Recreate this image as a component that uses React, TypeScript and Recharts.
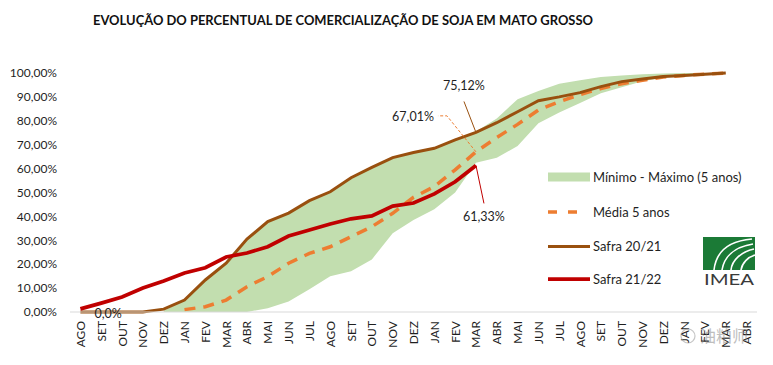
import React from "react";
import { ComposedChart, Line, Area, XAxis, YAxis } from "recharts";

const months = ["AGO","SET","OUT","NOV","DEZ","JAN","FEV","MAR","ABR","MAI","JUN","JUL","AGO","SET","OUT","NOV","DEZ","JAN","FEV","MAR","ABR","MAI","JUN","JUL","AGO","SET","OUT","NOV","DEZ","JAN","FEV","MAR","ABR"];

const safra2122: (number | null)[] = [1.3,3.7,6.3,10,13,16.3,18.5,23,24.7,27.3,31.8,34.3,36.8,39,40.2,44.3,45.6,49.4,54.5,61.33];

const safra2021: (number | null)[] = [0,0,0,0,1.2,5,13.4,20.4,30.5,37.8,41.4,46.6,50.3,56.2,60.5,64.6,66.7,68.5,72,75.12,79.2,83.8,88.4,90,91.8,94.3,96.4,97.5,98.5,99,99.5,100];

const media5: (number | null)[] = [null,null,null,null,null,1,2.2,5,10.6,14.8,20.4,24.5,27.3,31.5,35.7,41.3,48,52.5,59.5,67.01,73,78.5,84.5,88,91,93.5,95.5,97,98.3,99,99.5,100];

const bandMin: (number | null)[] = [null,null,null,null,0,0,0,0,0,1.6,4.4,9.5,15,17,22,33,38.5,43,50,62.5,64.5,69.5,79,83.5,87.5,91.5,94,96.5,98,99,99.5,100];

const bandMax: (number | null)[] = [null,null,null,null,0.5,5,13.4,20.4,30.5,37.8,41.4,46.6,50.3,56.2,60.5,64.6,66.7,68.5,72,75.5,81,89,92.5,95.5,97,98.3,99,99.5,99.8,100,100,100];

const yTicks = [0, 10, 20, 30, 40, 50, 60, 70, 80, 90, 100];

const labelBrown = "75,12%";
const labelMedia = "67,01%";
const labelRed = "61,33%";
const labelZero = "0,0%";

const data = months.map((m, i) => ({
  i,
  m,
  s2122: safra2122[i] ?? null,
  s2021: safra2021[i] ?? null,
  media: media5[i] ?? null,
  band:
    bandMin[i] != null && bandMax[i] != null
      ? [bandMin[i] as number, bandMax[i] as number]
      : null,
}));

const FONT = "Lato, 'Open Sans', sans-serif";
const TXT = "#1f1f1f";

const XTick = (props: any) => {
  const { x, y, payload } = props;
  return (
    <text
      transform={`translate(${x + 4.5},${y + 9}) rotate(-90)`}
      textAnchor="end"
      fontSize={12}
      fill={TXT}
      fontFamily={FONT}
    >
      {months[payload.value]}
    </text>
  );
};

const fmtY = (v: number) => v.toFixed(2).replace(".", ",") + "%";

const BrownLabel = (props: any) => {
  const { x, y, index } = props;
  if (index === 19) {
    return (
      <g>
        <line x1={x} y1={y} x2={x - 12} y2={y - 31} stroke="#99500f" strokeWidth={1} />
        <text x={x - 12} y={y - 42} textAnchor="middle" fontSize={12.5} fill={TXT} fontFamily={FONT}>
          {labelBrown}
        </text>
      </g>
    );
  }
  if (index === 1) {
    return (
      <text x={x + 7} y={y + 6} textAnchor="middle" fontSize={12.5} fill={TXT} fontFamily={FONT}>
        {labelZero}
      </text>
    );
  }
  return null;
};

const MediaLabel = (props: any) => {
  const { x, y, index } = props;
  if (index !== 19) return null;
  return (
    <g>
      <polyline
        points={`${x},${y} ${x - 29},${y - 36} ${x - 38},${y - 36}`}
        fill="none"
        stroke="#ed7d31"
        strokeWidth={1}
        strokeDasharray="3 2"
      />
      <text x={x - 42} y={y - 31} textAnchor="end" fontSize={12.5} fill={TXT} fontFamily={FONT}>
        {labelMedia}
      </text>
    </g>
  );
};

const RedLabel = (props: any) => {
  const { x, y, index } = props;
  if (index !== 19) return null;
  return (
    <g>
      <line x1={x} y1={y} x2={x + 8} y2={y + 38} stroke="#c00000" strokeWidth={1} />
      <text x={x + 8} y={y + 56} textAnchor="middle" fontSize={12.5} fill={TXT} fontFamily={FONT}>
        {labelRed}
      </text>
    </g>
  );
};

const legendItems = [
  { key: "band", label: "Mínimo - Máximo (5 anos)", y: 177 },
  { key: "media", label: "Média 5 anos", y: 212 },
  { key: "s2021", label: "Safra 20/21", y: 246.5 },
  { key: "s2122", label: "Safra 21/22", y: 279 },
];

export default function App() {
  return (
    <div style={{ position: "absolute", left: 0, top: 0, width: 773, height: 365, background: "#fff" }}>
      <ComposedChart
        width={773}
        height={365}
        data={data}
        margin={{ top: 73, right: 16, bottom: 0, left: 8 }}
      >
        <XAxis
          dataKey="i"
          type="category"
          interval={0}
          tick={<XTick />}
          tickLine={false}
          tickSize={0}
          tickMargin={0}
          height={53}
          padding={{ left: 10.4, right: 10.4 }}
          axisLine={{ stroke: "#d9d9d9", strokeWidth: 1 }}
        />
        <YAxis
          domain={[0, 100]}
          ticks={yTicks}
          tickFormatter={fmtY}
          axisLine={false}
          tickLine={false}
          tickSize={0}
          tickMargin={13}
          width={62}
          tick={{ fontSize: 12, fill: TXT, fontFamily: FONT }}
          interval={0}
        />
        <Area
          dataKey="band"
          type="linear"
          fill="#c2deaf"
          fillOpacity={1}
          stroke="none"
          isAnimationActive={false}
          dot={false}
          activeDot={false}
        />
        <Line
          dataKey="media"
          type="linear"
          stroke="#ed7d31"
          strokeWidth={3.5}
          strokeDasharray="11 8"
          dot={false}
          isAnimationActive={false}
          label={<MediaLabel />}
        />
        <Line
          dataKey="s2021"
          type="linear"
          stroke="#99500f"
          strokeWidth={3}
          dot={false}
          isAnimationActive={false}
          label={<BrownLabel />}
        />
        <Line
          dataKey="s2122"
          type="linear"
          stroke="#c00000"
          strokeWidth={3.75}
          dot={false}
          isAnimationActive={false}
          label={<RedLabel />}
        />
      </ComposedChart>
      <svg
        width={773}
        height={365}
        style={{ position: "absolute", left: 0, top: 0, pointerEvents: "none" }}
      >
        <text
          x={343}
          y={25}
          textAnchor="middle"
          fontSize={13}
          fontWeight="bold"
          fill="#111"
          fontFamily={FONT}
          textLength={500}
          lengthAdjust="spacingAndGlyphs"
        >
          EVOLUÇÃO DO PERCENTUAL DE COMERCIALIZAÇÃO DE SOJA EM MATO GROSSO
        </text>
        {legendItems.map((it) => (
          <g key={it.key}>
            {it.key === "band" && <rect x={548} y={it.y - 4.5} width={42} height={9} fill="#c2deaf" />}
            {it.key === "media" && (
              <line x1={548} y1={it.y} x2={588} y2={it.y} stroke="#ed7d31" strokeWidth={3.5} strokeDasharray="9 11" />
            )}
            {it.key === "s2021" && <line x1={548} y1={it.y} x2={590} y2={it.y} stroke="#99500f" strokeWidth={3} />}
            {it.key === "s2122" && <line x1={548} y1={it.y} x2={590} y2={it.y} stroke="#c00000" strokeWidth={3.75} />}
            <text x={593} y={it.y + 4.5} fontSize={13} fill={TXT} fontFamily={FONT}>
              {it.label}
            </text>
          </g>
        ))}
        <g>
          <rect x={703} y={237} width={52} height={33} fill="#1b7a36" />
          <path d="M752,239 C728,241 716,252 714,270" stroke="#fff" strokeWidth={1.6} fill="none" />
          <path d="M753,244 C734,247 724,257 722,270" stroke="#fff" strokeWidth={1.6} fill="none" />
          <path d="M754,249 C741,252 732,260 731,270" stroke="#fff" strokeWidth={1.6} fill="none" />
          <path d="M755,255 C748,257 742,263 741,270" stroke="#fff" strokeWidth={1.6} fill="none" />
          <text
            x={729}
            y={285}
            textAnchor="middle"
            fontSize={16}
            fill="#3a3a3a"
            fontFamily={FONT}
            textLength={50}
            lengthAdjust="spacingAndGlyphs"
          >
            IMEA
          </text>
        </g>
        <g opacity={0.55}>
          <circle cx={688} cy={336} r={7} fill="none" stroke="#999" strokeWidth={1.2} />
          <text x={700} y={342} fontSize={16} fill="#8a8a8a" fontFamily="'Noto Sans CJK SC', sans-serif">
            油粕师
          </text>
        </g>
      </svg>
    </div>
  );
}
